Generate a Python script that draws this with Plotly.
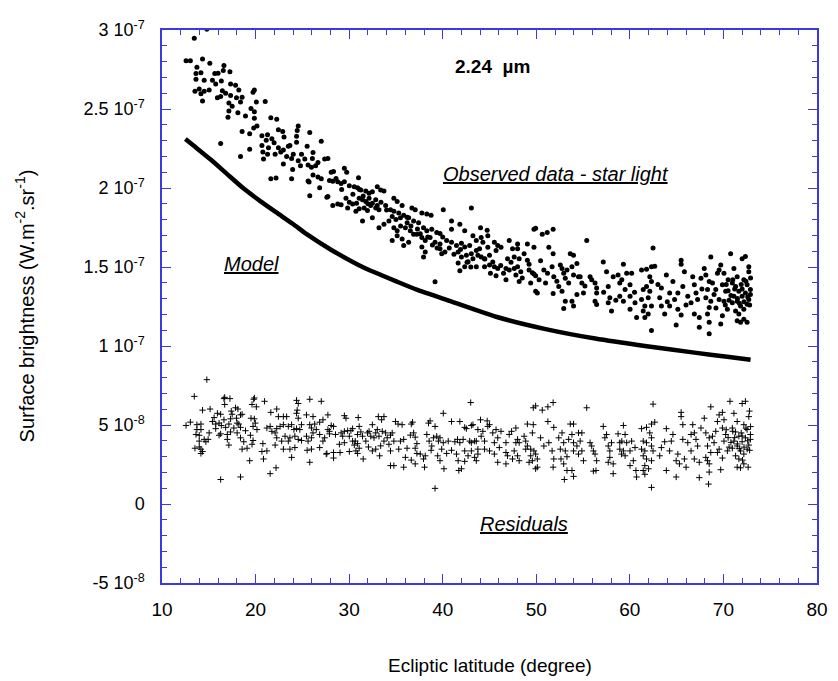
import plotly.graph_objects as go

SCALE = 1e-8  # values below are in units of 1e-8 W.m-2.sr-1

# Model curve (ecliptic latitude, brightness)
model_points = [
    (12.5, 23.1), (13.5, 22.62), (15.2, 21.8), (17.0, 20.86), (18.7, 19.98), (20.5, 19.17),
    (22.3, 18.42), (24.0, 17.72), (25.5, 17.06), (28.1, 16.08), (31.6, 14.95), (35.2, 14.05),
    (37.3, 13.55), (40.5, 12.9), (45.7, 11.85), (51.0, 11.07), (56.3, 10.47), (61.6, 10.0),
    (66.9, 9.58), (70.4, 9.32), (72.9, 9.13),
]

# Observed data - star light
observed_points = [
    (14.79, 30.05), (13.45, 29.47), (12.57, 28.06), (13.03, 28.06), (14.33, 28.17), (15.11, 27.9),
    (13.73, 27.65), (14.16, 27.3), (13.63, 27.24), (16.62, 27.75), (16.55, 27.44), (17.26, 27.36),
    (15.64, 27.24), (15.99, 27.26), (13.63, 26.89), (14.51, 26.82), (15.39, 26.82), (16.34, 26.78),
    (15.74, 26.58), (17.33, 26.58), (17.86, 26.51), (13.52, 26.12), (13.98, 26.27), (14.51, 26.12),
    (15.04, 26.2), (14.16, 25.96), (16.45, 26.16), (16.8, 26.0), (17.33, 25.85), (18.21, 26.2),
    (15.92, 25.71), (16.27, 25.79), (17.96, 25.71), (18.56, 25.75), (19.73, 26.06), (19.87, 26.2),
    (14.33, 25.5), (17.15, 25.38), (17.5, 25.17), (18.39, 25.44), (20.08, 25.44), (21.03, 25.48),
    (19.51, 25.03), (17.15, 24.88), (18.11, 24.76), (19.87, 24.82), (18.92, 24.55), (17.05, 24.47),
    (19.87, 24.41), (21.63, 24.45), (22.26, 24.35), (20.15, 23.93), (19.8, 23.79), (18.56, 23.58),
    (19.37, 23.44), (24.56, 23.93), (24.45, 23.64), (22.44, 23.68), (22.9, 23.58), (25.79, 23.52),
    (20.68, 23.31), (21.28, 23.37), (21.74, 23.11), (23.04, 23.23), (24.38, 23.27), (21.14, 23.02),
    (21.98, 22.86), (23.67, 22.69), (24.38, 22.9), (25.51, 22.65), (27.02, 22.96), (16.27, 22.82),
    (20.68, 22.69), (21.38, 22.55), (22.44, 22.55), (22.97, 22.4), (23.5, 22.65), (19.37, 22.45),
    (20.78, 22.28), (21.28, 22.14), (22.09, 22.14), (22.69, 22.28), (23.32, 21.99), (24.03, 22.14),
    (24.91, 22.14), (26.14, 22.24), (18.39, 21.99), (20.85, 21.83), (23.85, 21.87), (24.56, 21.72),
    (25.26, 21.83), (26.07, 21.87), (26.67, 21.62), (27.38, 21.83), (27.73, 21.87), (22.97, 21.52),
    (23.96, 21.17), (24.8, 21.41), (25.61, 21.45), (25.97, 21.31), (26.42, 21.41), (26.14, 20.83),
    (26.67, 20.69), (27.02, 20.59), (25.72, 20.38), (25.61, 20.44), (23.85, 20.59), (21.63, 20.59),
    (22.19, 20.63), (26.85, 20.01), (27.9, 20.48), (25.79, 19.51), (27.62, 19.41),
    (28.08, 21.0), (28.33, 21.05), (29.49, 21.25), (29.74, 21.0), (31.0, 20.65),
    (28.25, 20.43), (28.78, 20.39), (29.14, 20.28), (29.49, 20.39), (30.02, 20.14), (30.55, 20.08),
    (30.9, 20.01), (31.25, 19.87), (31.78, 19.81), (32.13, 19.66), (32.48, 19.77), (33.01, 20.08),
    (33.37, 19.87), (33.72, 19.81), (27.73, 19.46), (28.25, 18.9), (28.78, 18.98), (29.14, 18.94),
    (29.66, 19.35), (30.02, 19.1), (30.37, 18.98), (30.79, 19.04), (31.07, 19.35), (31.43, 19.25),
    (31.78, 19.15), (32.13, 19.35), (32.48, 19.04), (32.84, 19.25), (29.84, 18.73), (30.72, 18.53),
    (31.07, 18.69), (31.6, 18.73), (31.96, 18.57), (32.84, 18.73), (33.19, 18.63), (34.78, 19.35),
    (35.13, 19.15), (35.66, 18.9), (33.9, 18.9), (34.42, 18.63), (34.78, 18.53), (35.3, 18.42),
    (35.83, 18.28), (36.36, 18.11), (36.71, 18.73), (37.06, 18.63), (36.19, 18.15), (36.89, 17.91),
    (37.42, 17.8), (31.43, 17.91), (32.48, 18.11), (33.19, 17.49), (33.72, 17.7), (34.25, 17.91),
    (34.78, 17.49), (35.13, 17.29), (35.48, 18.11), (36.01, 17.49), (36.54, 17.29), (36.89, 17.08),
    (35.66, 16.77), (36.36, 16.57), (35.83, 16.36), (34.6, 16.67), (35.13, 16.98), (37.77, 18.42),
    (38.3, 18.36), (38.76, 18.28), (37.95, 17.49), (38.3, 17.29), (38.83, 17.39), (39.36, 17.18),
    (39.71, 17.12), (37.24, 17.08), (37.77, 16.87), (38.13, 16.67), (38.65, 16.87), (39.18, 16.57),
    (39.71, 16.46), (37.77, 16.26), (38.13, 15.95), (37.95, 15.64), (39.71, 16.15), (39.89, 15.84),
    (40.24, 15.95), (40.06, 18.63), (40.94, 17.91), (41.83, 17.7), (43.06, 18.73), (40.42, 16.67),
    (40.94, 16.57), (41.47, 16.36), (42.0, 16.5), (42.35, 16.26), (42.88, 16.36), (41.65, 15.95),
    (42.0, 15.64), (42.53, 15.74), (43.06, 15.84), (43.59, 16.05), (41.65, 15.26), (41.83, 14.77),
    (42.35, 15.02), (42.71, 15.33), (43.23, 15.53), (40.94, 17.39), (42.35, 17.29), (43.23, 16.98),
    (43.59, 16.67), (39.18, 14.07),
    (28.6, 20.6), (29.2, 19.9), (30.4, 19.6), (31.1, 19.9), (31.5, 19.5), (32.0, 19.0),
    (32.3, 18.9), (33.0, 18.9), (33.4, 19.1), (34.0, 18.6), (34.6, 18.2), (35.0, 18.0),
    (35.5, 17.6), (36.2, 17.8), (36.6, 17.6), (37.3, 17.4), (37.6, 17.1), (38.4, 16.9),
    (38.9, 16.4), (39.4, 16.2), (40.0, 16.9), (40.7, 16.2), (41.2, 15.8), (41.9, 16.1),
    (42.6, 15.3), (43.0, 15.0), (44.5, 15.5), (45.1, 14.6), (46.2, 15.1), (46.5, 14.6),
    (47.3, 15.3), (48.5, 14.3), (50.3, 14.2), (51.2, 14.6), (52.2, 14.1), (55.2, 13.8),
    (57.2, 13.4), (58.5, 12.9), (60.5, 13.4), (63.0, 13.9), (64.0, 12.8), (66.0, 12.6),
    (67.7, 13.6), (69.2, 12.4), (70.2, 12.6), (70.5, 14.2),
    (44.04, 17.49), (44.75, 17.33), (44.11, 16.87), (44.82, 16.98), (44.29, 16.56), (43.94, 16.15),
    (44.82, 16.25), (45.52, 16.56), (45.88, 16.36), (45.7, 16.05), (43.76, 15.74), (44.11, 15.63),
    (44.47, 15.53), (45.0, 15.74), (45.35, 15.32), (43.59, 15.01), (44.47, 15.01), (45.0, 15.12),
    (45.52, 15.01), (45.88, 14.91), (45.7, 14.44), (46.23, 16.25), (46.93, 15.53), (47.11, 16.67),
    (47.46, 16.15), (48.0, 16.46), (48.0, 16.15), (46.76, 14.91), (47.11, 14.81), (47.64, 14.91),
    (48.0, 15.01), (48.34, 14.7), (47.82, 14.5), (48.17, 14.09), (46.76, 14.19), (47.64, 15.63),
    (48.17, 15.53), (48.7, 15.84), (49.05, 15.43), (49.23, 15.18), (49.75, 17.39), (49.93, 17.45),
    (50.64, 17.08), (51.17, 17.18), (51.8, 17.39), (49.05, 16.46), (49.75, 16.25), (50.46, 15.39),
    (49.23, 14.81), (49.58, 14.64), (49.93, 14.44), (49.4, 13.98), (49.75, 14.56), (49.93, 13.46),
    (50.11, 13.36), (50.81, 14.81), (50.99, 13.98), (51.34, 16.25), (51.69, 15.01), (51.8, 15.84),
    (51.87, 14.39), (51.8, 13.32), (52.57, 15.12), (52.4, 13.77), (52.75, 13.46), (53.1, 14.29),
    (52.93, 14.6), (53.46, 13.98), (53.63, 15.84), (53.98, 15.74), (52.75, 14.91), (53.28, 14.81),
    (53.81, 15.01), (54.34, 15.22), (53.98, 14.5), (54.51, 14.39), (53.1, 12.84), (53.81, 12.84),
    (52.93, 12.37), (53.98, 12.53), (54.34, 13.26), (55.04, 13.36), (54.87, 13.98), (54.69, 14.39),
    (55.39, 16.67), (55.75, 14.39), (55.92, 14.19), (56.28, 13.98), (56.45, 13.67), (56.45, 13.36),
    (56.28, 12.84), (56.45, 12.63), (57.16, 15.32), (57.51, 14.7), (57.69, 13.77), (57.86, 13.05),
    (57.69, 12.74), (58.04, 12.22), (58.22, 14.39), (58.74, 14.5), (58.92, 13.98), (58.92, 13.15),
    (62.48, 16.21), (59.31, 15.18), (59.66, 14.6), (60.19, 14.6), (59.14, 14.19), (59.49, 13.57),
    (60.02, 13.88), (60.02, 13.15), (59.31, 12.84), (60.55, 12.74), (60.02, 12.33), (60.72, 11.81),
    (61.25, 14.81), (61.78, 14.85), (62.31, 15.01), (62.66, 15.05), (62.13, 14.39), (62.31, 14.08),
    (61.78, 13.77), (61.43, 13.57), (62.13, 13.46), (61.96, 13.05), (61.25, 12.95), (61.6, 12.53),
    (62.31, 12.53), (61.43, 12.22), (61.96, 12.02), (61.6, 11.81), (62.31, 10.98), (63.37, 13.67),
    (63.19, 13.05), (63.37, 12.53), (63.9, 14.5), (64.25, 13.36), (64.6, 14.08), (63.72, 12.02),
    (64.25, 12.53), (64.78, 12.95), (65.13, 13.36), (65.48, 15.43), (65.48, 15.18), (65.66, 13.77),
    (65.83, 14.7), (65.13, 12.33), (65.48, 11.96), (64.95, 11.33), (66.19, 13.15), (66.72, 14.39),
    (66.54, 12.74), (66.89, 13.88), (67.07, 13.36), (67.24, 12.95), (66.89, 12.02), (67.42, 11.81),
    (67.42, 11.19), (67.6, 14.29), (67.95, 14.91), (68.12, 14.5), (68.65, 15.63), (68.48, 14.08),
    (68.3, 13.57), (68.83, 13.98), (68.12, 13.05), (68.65, 12.84), (69.18, 13.57), (69.0, 13.26),
    (69.36, 14.6), (69.54, 12.95), (68.48, 12.43), (68.3, 12.02), (68.48, 11.5), (68.48, 10.78),
    (69.54, 14.81), (69.71, 15.12), (70.06, 14.6), (69.89, 13.88), (70.24, 13.46), (70.06, 12.84),
    (70.42, 12.33), (69.89, 11.91), (69.71, 11.4), (70.77, 15.84), (71.12, 14.91), (71.47, 14.39),
    (70.95, 13.98), (71.3, 13.77), (71.65, 13.46), (71.12, 13.15), (71.47, 12.84), (70.95, 12.74),
    (71.83, 12.53), (71.3, 12.22), (71.65, 12.02), (71.47, 11.6), (71.83, 11.5), (72.18, 11.7),
    (72.53, 11.5), (72.0, 15.53), (72.35, 15.67), (72.71, 15.01), (72.71, 14.7), (72.18, 14.19),
    (72.53, 13.88), (72.88, 13.57), (72.35, 13.36), (72.0, 13.15), (72.71, 12.95), (72.53, 12.64),
    (72.18, 12.33), (72.88, 13.26), (70.5, 13.5), (70.8, 13.2), (71.0, 14.2), (71.5, 13.0),
    (71.9, 13.9), (72.2, 12.8), (72.4, 14.1), (72.6, 13.1), (72.8, 12.6), (70.6, 12.9), (71.7, 12.7),
    (72.0, 13.6), (71.2, 13.6), (70.3, 13.9), (72.9, 14.3),
]

# Residuals
residual_points = [
    (14.79, 7.87), (13.45, 6.81), (12.57, 4.97), (13.03, 5.18), (13.73, 5.02), (14.16, 5.06),
    (13.73, 4.71), (14.16, 4.71), (13.63, 4.4), (13.98, 4.35), (13.98, 3.98), (14.51, 4.09),
    (14.93, 4.09), (14.69, 3.94), (13.98, 3.61), (14.16, 3.47), (14.33, 3.32), (13.52, 3.53),
    (14.16, 3.2), (14.33, 5.94), (15.14, 6.01), (15.04, 4.5), (15.57, 5.47), (15.39, 5.22),
    (15.74, 5.06), (15.92, 5.74), (16.27, 5.68), (16.1, 5.12), (16.34, 4.97), (16.62, 6.67),
    (16.7, 6.75), (16.7, 6.3), (17.26, 6.67), (16.62, 5.33), (16.8, 4.85), (17.15, 5.06),
    (17.33, 5.39), (17.4, 5.88), (17.86, 6.09), (18.11, 6.01), (17.5, 5.68), (17.96, 5.43),
    (18.39, 5.64), (18.56, 5.68), (18.03, 5.12), (18.21, 5.06), (17.68, 4.81), (18.39, 4.85),
    (18.03, 4.5), (17.33, 4.56), (16.98, 4.4), (16.27, 4.44), (16.1, 4.35), (15.74, 4.77),
    (16.98, 4.09), (17.15, 3.73), (18.39, 4.19), (18.74, 3.94), (18.92, 4.64), (19.45, 4.35),
    (18.56, 3.47), (19.09, 3.53), (16.27, 1.55), (18.39, 1.71), (19.37, 2.74), (19.87, 6.71),
    (19.8, 6.63), (19.62, 6.3), (20.08, 6.15), (19.51, 5.43), (19.87, 5.39), (19.97, 5.12),
    (19.73, 4.91), (20.15, 4.71), (19.73, 4.02), (19.62, 3.78), (20.78, 3.82), (20.68, 3.32),
    (20.85, 2.85), (21.21, 3.36), (20.96, 6.5), (21.56, 1.92), (22.19, 2.29), (21.63, 5.8),
    (22.26, 6.01), (22.44, 5.53), (22.97, 5.53), (23.32, 5.53), (21.21, 4.81), (21.56, 4.91),
    (21.74, 4.6), (22.09, 4.5), (22.26, 4.77), (22.62, 4.91), (22.97, 5.02), (23.5, 4.91),
    (23.85, 5.02), (24.1, 4.71), (24.38, 4.77), (24.73, 4.71), (24.91, 5.02), (22.26, 4.19),
    (22.79, 3.98), (23.15, 4.29), (23.5, 3.98), (23.67, 4.19), (24.2, 4.29), (24.56, 4.09),
    (24.91, 4.02), (25.44, 4.29), (25.61, 3.98), (25.97, 4.19), (22.09, 3.73), (22.97, 3.47),
    (23.67, 3.47), (24.2, 3.57), (23.85, 2.95), (25.51, 3.4), (25.79, 2.64), (25.97, 3.47),
    (24.38, 6.56), (24.56, 6.36), (24.45, 5.94), (24.38, 5.74), (24.56, 5.43), (25.79, 6.63),
    (27.02, 6.5), (25.44, 5.64), (26.14, 5.53), (25.79, 5.02), (26.32, 5.06), (25.97, 4.81),
    (26.49, 4.71), (26.14, 4.5), (26.85, 5.18), (27.2, 5.33), (26.85, 4.4), (27.2, 3.98),
    (26.85, 3.57), (27.38, 4.19), (27.73, 4.71), (27.9, 4.44), (27.62, 3.2),
    (27.73, 5.64), (28.08, 4.97), (28.33, 4.91), (27.9, 4.6), (27.55, 3.16), (28.33, 3.26),
    (29.03, 3.26), (28.33, 2.91), (29.14, 4.5), (28.54, 4.4), (29.49, 5.59), (29.66, 5.43),
    (29.49, 4.6), (29.84, 4.64), (29.31, 4.29), (29.49, 3.88), (30.19, 4.64), (30.37, 4.77),
    (30.02, 4.29), (30.37, 3.98), (30.02, 3.32), (28.96, 3.78), (30.97, 5.47), (31.07, 4.91),
    (31.25, 4.56), (31.43, 4.29), (30.9, 4.4), (30.65, 3.98), (30.9, 3.82), (31.07, 3.53),
    (30.72, 3.36), (30.9, 3.2), (31.5, 2.85), (30.55, 3.73), (31.78, 3.98), (31.96, 4.5),
    (32.13, 4.6), (32.31, 4.29), (32.48, 5.02), (32.66, 4.19), (32.84, 4.5), (33.01, 4.71),
    (33.19, 4.29), (32.06, 3.61), (32.48, 3.36), (32.84, 3.47), (33.37, 3.68), (33.72, 3.98),
    (33.9, 4.5), (33.54, 4.6), (34.07, 4.19), (34.25, 3.78), (33.26, 3.05), (33.12, 5.53),
    (33.47, 5.33), (33.72, 5.53), (34.42, 4.36), (34.6, 4.5), (34.78, 3.98), (34.95, 5.22),
    (35.23, 5.06), (35.66, 5.02), (34.42, 3.36), (34.42, 2.43), (34.78, 2.43), (35.48, 3.98),
    (35.83, 4.09), (35.3, 3.47), (36.19, 3.53), (36.01, 2.95), (35.83, 2.33), (36.64, 5.06),
    (36.78, 5.18), (36.54, 4.36), (36.89, 4.5), (37.06, 4.23), (37.24, 3.82), (37.06, 3.53),
    (37.24, 3.2), (36.64, 2.78), (37.06, 2.54), (37.6, 3.16), (37.95, 2.85), (38.13, 3.05),
    (38.06, 2.33), (38.48, 5.12), (38.65, 5.26), (38.3, 4.4), (38.55, 3.98), (38.83, 3.67),
    (38.76, 3.4), (39.18, 4.91), (39.01, 4.19), (39.36, 4.29), (39.71, 4.19), (39.54, 3.98),
    (40.06, 3.88), (39.89, 3.47), (39.71, 2.74), (40.13, 2.23), (39.46, 3.05), (40.06, 5.74),
    (39.18, 0.99), (40.94, 5.22), (41.83, 5.22), (42.35, 4.85), (42.53, 4.77), (42.99, 6.42),
    (43.06, 4.97), (43.23, 5.02), (40.59, 3.98), (41.3, 3.94), (41.58, 4.09), (41.83, 3.88),
    (42.18, 4.09), (42.35, 3.36), (42.88, 3.98), (43.06, 3.88), (43.41, 3.98), (40.94, 3.4),
    (41.47, 3.16), (41.65, 2.74), (41.72, 2.12), (42.0, 2.23), (42.35, 2.7), (42.71, 3.05),
    (43.06, 3.36), (43.41, 2.95), (43.76, 3.16), (43.59, 2.74), (40.42, 3.2),
    (44.04, 5.33), (44.75, 5.26), (43.76, 4.71), (44.29, 4.6), (44.82, 4.91), (45.0, 5.02),
    (44.11, 4.29), (43.59, 3.98), (44.47, 3.98), (43.76, 3.47), (44.47, 3.47), (45.0, 3.36),
    (45.35, 4.5), (45.7, 4.71), (45.52, 3.88), (45.88, 4.19), (46.23, 4.6), (46.05, 3.57),
    (45.52, 3.16), (45.88, 2.64), (46.76, 3.88), (46.76, 3.26), (46.93, 3.05), (46.76, 2.54),
    (47.11, 4.4), (47.36, 4.6), (47.82, 4.81), (48.0, 4.09), (47.82, 3.88), (48.17, 3.88),
    (47.64, 3.36), (48.0, 3.05), (48.17, 2.74), (47.46, 2.85), (49.05, 5.06), (49.68, 5.02),
    (49.58, 4.5), (48.7, 4.29), (48.87, 3.98), (49.05, 3.67), (49.4, 3.47), (49.75, 3.36),
    (49.93, 3.16), (49.4, 3.05), (50.11, 2.85), (49.58, 2.74), (49.23, 2.64), (49.93, 2.23),
    (50.11, 2.33), (48.87, 3.47), (50.46, 4.19), (49.68, 6.09), (49.93, 6.21), (50.64, 5.94),
    (51.24, 6.15), (51.8, 6.42), (51.24, 5.22), (51.87, 4.85), (53.63, 5.06), (53.98, 5.06),
    (55.39, 6.09), (50.81, 3.67), (51.34, 3.88), (51.69, 3.36), (51.87, 2.85), (51.8, 2.33),
    (52.4, 4.19), (52.75, 4.5), (52.93, 3.88), (52.57, 3.47), (53.1, 3.36), (52.64, 2.85),
    (52.93, 2.54), (53.28, 2.99), (53.46, 4.09), (53.81, 4.4), (53.98, 3.88), (53.98, 3.36),
    (54.34, 3.67), (54.51, 4.5), (54.87, 4.5), (54.69, 3.98), (54.87, 3.36), (54.51, 3.16),
    (55.04, 2.74), (53.81, 2.12), (53.98, 1.75), (53.0, 1.55), (53.28, 2.12), (55.75, 3.88),
    (55.92, 3.67), (56.1, 3.36), (56.28, 3.16), (56.45, 2.74), (56.38, 2.12), (56.1, 2.08),
    (57.16, 4.91), (57.33, 4.19), (57.69, 3.67), (57.86, 3.36), (57.86, 2.95), (57.69, 2.64),
    (58.22, 2.54), (58.22, 1.92), (57.51, 4.4), (58.04, 3.88), (58.74, 4.44), (58.92, 3.88),
    (58.92, 3.47), (59.1, 3.16),
    (62.48, 6.32), (59.31, 4.97), (59.49, 4.4), (59.14, 3.98), (59.66, 3.88), (59.31, 3.36),
    (59.49, 3.05), (60.19, 3.98), (60.02, 3.36), (60.55, 3.57), (60.37, 2.74), (60.02, 2.43),
    (60.65, 2.12), (60.72, 1.71), (61.25, 4.77), (61.78, 4.85), (62.31, 5.06), (62.66, 5.18),
    (62.13, 4.5), (62.31, 4.19), (61.43, 3.98), (61.78, 3.88), (61.25, 3.47), (61.6, 3.36),
    (62.31, 3.67), (62.48, 3.36), (61.43, 3.05), (61.78, 2.85), (62.31, 2.74), (61.6, 2.43),
    (61.43, 2.12), (61.6, 1.88), (62.31, 1.05), (62.0, 2.23), (63.37, 3.57), (63.19, 3.05),
    (63.72, 3.94), (63.9, 4.77), (64.25, 3.36), (64.6, 4.4), (64.43, 3.98), (63.9, 2.12),
    (64.95, 1.71), (65.13, 3.16), (65.48, 5.8), (65.48, 5.53), (65.66, 5.02), (65.66, 4.09),
    (65.3, 2.54), (65.83, 2.85), (66.01, 2.33), (64.95, 2.74), (66.19, 3.88), (66.72, 5.02),
    (66.54, 3.36), (66.89, 4.5), (67.07, 4.09), (67.24, 3.67), (66.89, 2.85), (67.42, 2.64),
    (67.42, 1.67), (67.6, 4.81), (66.54, 4.4), (67.95, 5.43), (68.12, 4.5), (68.65, 6.15),
    (68.48, 4.19), (68.3, 3.67), (68.65, 3.26), (68.12, 2.95), (68.48, 2.54), (68.48, 2.02),
    (68.3, 2.74), (69.18, 4.6), (69.0, 3.88), (69.36, 5.22), (69.54, 3.47), (68.83, 4.29),
    (68.41, 1.26), (69.54, 5.64), (69.89, 5.8), (70.06, 5.33), (69.89, 4.81), (70.24, 4.4),
    (70.06, 3.98), (70.42, 3.36), (69.89, 2.91), (69.71, 2.17), (69.36, 3.26), (70.7, 6.5),
    (71.12, 5.74), (71.47, 5.22), (70.95, 4.81), (71.3, 4.56), (71.65, 4.29), (71.12, 3.98),
    (71.47, 3.67), (70.95, 3.53), (71.83, 3.36), (71.3, 3.05), (71.65, 2.85), (71.47, 2.33),
    (71.83, 2.29), (72.18, 2.54), (72.64, 2.33), (72.0, 6.36), (72.35, 6.5), (72.78, 5.88),
    (72.71, 5.53), (72.18, 5.02), (72.53, 4.71), (72.88, 4.4), (72.35, 4.19), (72.0, 3.94),
    (72.71, 3.73), (72.53, 3.47), (72.18, 3.16), (72.88, 4.09), (72.04, 2.78), (70.5, 4.2),
    (70.8, 3.9), (71.0, 4.6), (71.5, 3.8), (71.9, 4.5), (72.2, 3.6), (72.4, 4.8), (72.6, 4.0),
    (72.8, 3.4), (70.6, 3.6), (71.7, 3.5), (72.0, 4.3), (71.2, 4.2), (70.3, 4.7), (72.9, 4.9),
]

model_lat = [p[0] for p in model_points]
model_val = [p[1] * SCALE for p in model_points]
obs_lat = [p[0] for p in observed_points]
obs_val = [p[1] * SCALE for p in observed_points]
res_lat = [p[0] for p in residual_points]
res_val = [p[1] * SCALE for p in residual_points]

x_ticks = [10, 20, 30, 40, 50, 60, 70, 80]
y_tickvals = [-5e-8, 0, 5e-8, 1e-7, 1.5e-7, 2e-7, 2.5e-7, 3e-7]
y_ticktext = ["-5 10<sup>-8</sup>", "0", "5 10<sup>-8</sup>", "1 10<sup>-7</sup>",
              "1.5 10<sup>-7</sup>", "2 10<sup>-7</sup>", "2.5 10<sup>-7</sup>", "3 10<sup>-7</sup>"]

AX = "#3a3ae0"
FONT = "Liberation Sans, Arial, sans-serif"

fig = go.Figure()
fig.add_trace(go.Scatter(x=model_lat, y=model_val, mode="lines",
                         line=dict(color="black", width=4.5, shape="spline", smoothing=0.5),
                         showlegend=False))
fig.add_trace(go.Scatter(x=obs_lat, y=obs_val, mode="markers",
                         marker=dict(color="black", size=5), showlegend=False))
fig.add_trace(go.Scatter(x=res_lat, y=res_val, mode="markers",
                         marker=dict(symbol="cross-thin", size=4.5, color="black",
                                     line=dict(color="black", width=1)),
                         showlegend=False))

fig.update_xaxes(range=[10, 80], tickvals=x_ticks, showline=True, linecolor=AX, linewidth=1.5,
                 mirror="ticks", ticks="inside", ticklen=9, tickcolor=AX, tickwidth=1.2,
                 minor=dict(ticks="inside", ticklen=5, dtick=2, tickcolor=AX, tickwidth=1),
                 showgrid=False, zeroline=False, ticklabelstandoff=8, ticklabeloverflow="allow",
                 tickfont=dict(family=FONT, size=19, color="black"))
fig.update_yaxes(range=[-5e-8, 3e-7], tickvals=y_tickvals, ticktext=y_ticktext,
                 showline=True, linecolor=AX, linewidth=1.5,
                 mirror="ticks", ticks="inside", ticklen=9, tickcolor=AX, tickwidth=1.2,
                 minor=dict(ticks="inside", ticklen=5, dtick=1e-8, tickcolor=AX, tickwidth=1),
                 showgrid=False, zeroline=False, ticklabelstandoff=12, ticklabeloverflow="allow",
                 tickfont=dict(family=FONT, size=18, color="black"))

annotations = [
    dict(x=45.3, y=2.771e-7, xref="x", yref="y", text="<b>2.24  µm</b>",
         showarrow=False, font=dict(family=FONT, size=19, color="black")),
    dict(x=52.1, y=2.09e-7, xref="x", yref="y", text="<i><u>Observed data - star light</u></i>",
         showarrow=False, font=dict(family=FONT, size=20, color="black")),
    dict(x=19.52, y=1.52e-7, xref="x", yref="y", text="<i><u>Model</u></i>",
         showarrow=False, font=dict(family=FONT, size=20, color="black")),
    dict(x=48.7, y=-1.28e-8, xref="x", yref="y", text="<i><u>Residuals</u></i>",
         showarrow=False, font=dict(family=FONT, size=20, color="black")),
    dict(x=0.5, y=-0.150, xref="paper", yref="paper", text="Ecliptic latitude (degree)",
         xanchor="center", yanchor="middle",
         showarrow=False, font=dict(family=FONT, size=19, color="black")),
    dict(x=-0.2085, y=0.501, xref="paper", yref="paper",
         text="Surface brightness (W.m<sup>-2</sup>.sr<sup>-1</sup>)", textangle=-90,
         xanchor="center", yanchor="middle",
         showarrow=False, font=dict(family=FONT, size=20, color="black")),
]

# The page body adds an 8 px offset, so the figure is sized to fit inside the window.
fig.update_layout(width=830, height=673, margin=dict(l=154, r=14, t=10, b=98),
                  plot_bgcolor="white", paper_bgcolor="white", annotations=annotations,
                  font=dict(family=FONT, color="black"))

fig.write_html("out.html")
